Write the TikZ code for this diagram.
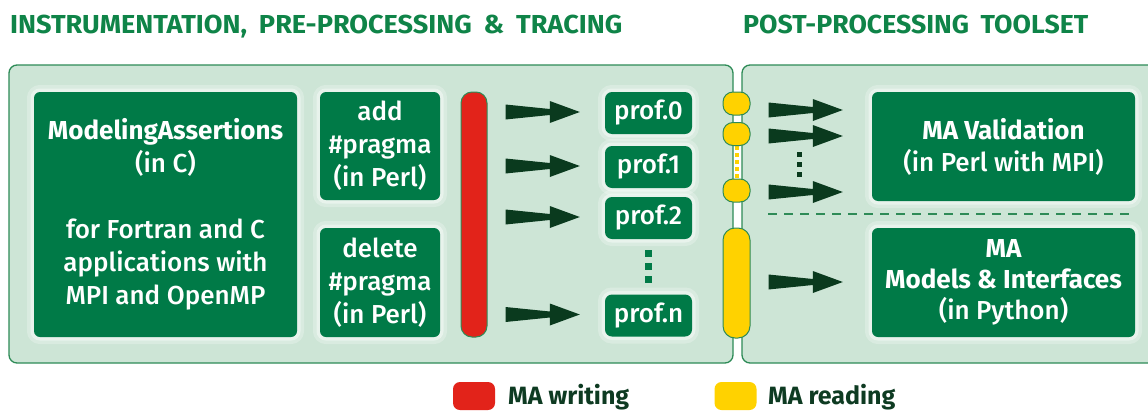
\documentclass[tikz,border=0pt]{standalone}
\usepackage{fontspec}
\usepackage{graphicx}
\setmainfont{Fira Sans}
\newfontfamily\medfont{Fira Sans Medium}
\usetikzlibrary{calc}

\definecolor{boxgreen}{HTML}{007A47}
\definecolor{panelfill}{HTML}{CDE5D6}
\definecolor{panelline}{HTML}{2E8B57}
\definecolor{titlegreen}{HTML}{0F8448}
\definecolor{arrowcol}{HTML}{0A3A1E}
\definecolor{writered}{HTML}{E2231A}
\definecolor{readyellow}{HTML}{FFD200}
\definecolor{legendtext}{HTML}{0E3B22}

% bold heading line inside a box
\newcommand\hd[1]{{\normalfont\bfseries #1}}

% wide flat arrow from the first point to the x of the second point
\newcommand\fatarrow[2]{%
  \fill[arrowcol] let \p1=#1, \p2=#2 in
    (\x1,{\y1+7.5pt}) -- ({\x2-30pt},{\y1+3pt}) -- ({\x2-30pt},{\y1+11pt})
    -- (\x2,\y1) -- ({\x2-30pt},{\y1-11pt}) -- ({\x2-30pt},{\y1-3pt})
    -- (\x1,{\y1-7.5pt}) -- cycle;}

\begin{document}
\begin{tikzpicture}[x=1pt,y=-1pt,
  panel/.style={draw=panelline, line width=1.3pt, fill=panelfill, rounded corners=8pt},
  halo/.style={preaction={draw=white, draw opacity=0.25, line width=14pt},
               preaction={draw=white, draw opacity=0.4, line width=7pt}},
  box/.style={halo, fill=boxgreen, text=white, rounded corners=6pt, align=center,
              inner sep=0pt, font=\medfont\fontsize{26}{33}\selectfont},
  prof/.style={box, minimum width=87pt, minimum height=42pt, rounded corners=7pt},
  reader/.style={draw=panelline, line width=1pt, fill=readyellow, inner sep=0pt,
                 minimum width=27pt, minimum height=23pt, rounded corners=10pt},
  legendkey/.style={inner sep=0pt, minimum width=42pt, minimum height=28pt, rounded corners=7pt},
  legendlabel/.style={anchor=base west, inner sep=0pt, text=legendtext,
                      font=\bfseries\fontsize{25}{30}\selectfont},
  heading/.style={anchor=base west, inner sep=0pt, text=titlegreen,
                  font=\bfseries\fontsize{26}{30}\selectfont},
  sepline/.style={draw=panelline, line width=1.6pt, dash pattern=on 9pt off 7pt},
]
\path[use as bounding box, clip] (0,0) rectangle (1148,410);
\fill[white] (0,0) rectangle (1148,410);

% section headings
\node[heading] (h1) at (10,33)
  {\resizebox{612pt}{\height}{INSTRUMENTATION,\hspace{0.2em} PRE-PROCESSING\hspace{0.2em} \&\hspace{0.2em} TRACING}};
\node[heading] (h2) at (743,33)
  {\resizebox{345pt}{\height}{POST-PROCESSING\hspace{0.2em} TOOLSET}};

% the two panels
\draw[panel] (9,65) rectangle (733,363);
\draw[panel] (742,65) rectangle (1175,363);

% instrumentation and pre-processing tools
\node[box, minimum width=263pt, minimum height=245pt] (ma) at (165.5,214.5)
  {\hd{ModelingAssertions}\\(in C)\\[33pt]for Fortran and C\\applications with\\MPI and OpenMP};
\node[box, minimum width=120pt, minimum height=108pt] (add) at (380,146)
  {add\\\#pragma\\(in Perl)};
\node[box, minimum width=120pt, minimum height=109pt] (del) at (380,282.5)
  {delete\\\#pragma\\(in Perl)};

% writing phase
\node[draw=panelline, line width=1pt, fill=writered, inner sep=0pt, rounded corners=11pt,
      minimum width=26pt, minimum height=245pt] (wbar) at (474,214.5) {};

% trace files
\node[prof] (p0) at (648.5,113) {prof.0};
\node[prof] (p1) at (648.5,167) {prof.1};
\node[prof] (p2) at (648.5,218) {prof.2};
\node[prof] (pn) at (648.5,315.5) {prof.n};
\foreach \yy in {253.5,266,279}
  \fill[boxgreen] (645,\yy-3.5) rectangle ++(7,7);

\foreach \nm in {p0,p1,p2,pn}
  \fatarrow{($(wbar.east|-\nm.west)+(18,-1)$)}{($(\nm.west)+(-25,0)$)};

% reading phase
\draw[readyellow, line width=4pt, dash pattern=on 4pt off 3pt] (736.5,146) -- (736.5,179);
\node[reader] (r1) at (736.5,103.5) {};
\node[reader] (r2) at (736.5,134) {};
\node[reader] (r3) at (736.5,190.5) {};
\node[reader, minimum height=110pt, rounded corners=12pt] (rc) at (736.5,283) {};

% post-processing tools
\node[box, minimum width=263pt, minimum height=109pt, font=\medfont\fontsize{26}{32}\selectfont]
  (val) at (1003.5,146.5) {\hd{MA Validation}\\(in Perl with MPI)};
\node[box, minimum width=263pt, minimum height=109pt, font=\medfont\fontsize{26}{31}\selectfont]
  (mod) at (1003.5,282.5) {\hd{MA}\\\hd{Models \& Interfaces}\\(in Python)};
\draw[sepline] (768,214) -- (1135,214);

\fatarrow{($(r1.east)+(18,6.5)$)}{($(val.west)+(-29,0)$)};
\fatarrow{($(r2.east)+(18,2)$)}{($(val.west)+(-29,0)$)};
\fatarrow{($(r3.east)+(18,1.5)$)}{($(val.west)+(-29,0)$)};
\fatarrow{($(rc.east)+(18,-1)$)}{($(mod.west)+(-29,0)$)};
\foreach \yy in {154.5,164,174}
  \fill[arrowcol] (796.5,\yy-2.5) rectangle ++(5,5);

% legend
\node[legendkey, fill=writered] (kw) at (474,396) {};
\node[legendlabel] (lw) at (508,404) {MA writing};
\node[legendkey, fill=readyellow] (kr) at (735.5,396) {};
\node[legendlabel] (lr) at (768,404) {MA reading};
\end{tikzpicture}
\end{document}
